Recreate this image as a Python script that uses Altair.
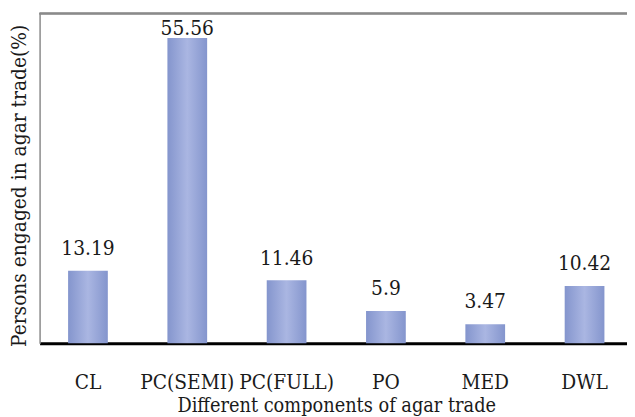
import altair as alt
import pandas as pd

categories = ["CL", "PC(SEMI)", "PC(FULL)", "PO", "MED", "DWL"]
values = [13.19, 55.56, 11.46, 5.9, 3.47, 10.42]
labels = ["13.19", "55.56", "11.46", "5.9", "3.47", "10.42"]

df = pd.DataFrame({"cat": categories, "value": values, "label": labels})

W, H = 595, 334
FONT = "DejaVu Serif Condensed"
TXT = "#1a1a1a"

x_enc = alt.X(
    "cat:N",
    sort=categories,
    scale=alt.Scale(paddingInner=0.6, paddingOuter=0.287, range=[0, 601]),
    axis=alt.Axis(
        title="Different components of agar trade",
        labelAngle=0,
        ticks=False,
        tickSize=0,
        labelPadding=46,
        labelBaseline="alphabetic",
        domainColor="black",
        domainWidth=3,
        titleY=69,
        titleX=W / 2 + 3,
        titleBaseline="alphabetic",
        labelFontSize=21,
        titleFontSize=20,
        labelFont=FONT,
        titleFont=FONT,
        labelColor=TXT,
        titleColor=TXT,
        titleFontWeight="normal",
    ),
)

y_enc = alt.Y(
    "value:Q",
    scale=alt.Scale(domain=[0, 60], nice=False, zero=True),
    axis=alt.Axis(
        title="Persons engaged in agar trade(%)",
        labels=False,
        ticks=False,
        grid=False,
        domainColor="#8a8a8a",
        domainWidth=1.5,
        titleX=-14,
        titleY=174,
        titleAngle=270,
        titleAlign="center",
        titleBaseline="alphabetic",
        titleFontSize=21,
        titleFont=FONT,
        titleColor=TXT,
        titleFontWeight="normal",
    ),
)

grad = alt.Gradient(
    gradient="linear",
    x1=0, x2=1, y1=0, y2=0,
    stops=[
        alt.GradientStop(color="#8495cd", offset=0),
        alt.GradientStop(color="#aab6e2", offset=0.5),
        alt.GradientStop(color="#8495cd", offset=1),
    ],
)

bars = alt.Chart(df).mark_bar(color=grad).encode(x=x_enc, y=y_enc)

text = (
    alt.Chart(df)
    .transform_calculate(ly="min(datum.value + 2.87, 56.04)")
    .mark_text(font=FONT, fontSize=21, color=TXT, baseline="alphabetic")
    .encode(
        x=alt.X("cat:N", sort=categories),
        y=alt.Y("ly:Q"),
        text="label:N",
    )
)

top_rule = alt.Chart(df).mark_rule(color="#8a8a8a", strokeWidth=1.5).encode(
    x=alt.value(0), x2=alt.value(W), y=alt.value(0)
)

chart = (
    alt.layer(bars, text, top_rule)
    .properties(
        width=W,
        height=H,
        autosize="none",
        padding={"left": 32, "top": 3, "right": 0, "bottom": 72},
        background="white",
    )
    .configure_view(stroke=None)
)

chart.save("out.html", embed_options={"renderer": "svg", "actions": False})
